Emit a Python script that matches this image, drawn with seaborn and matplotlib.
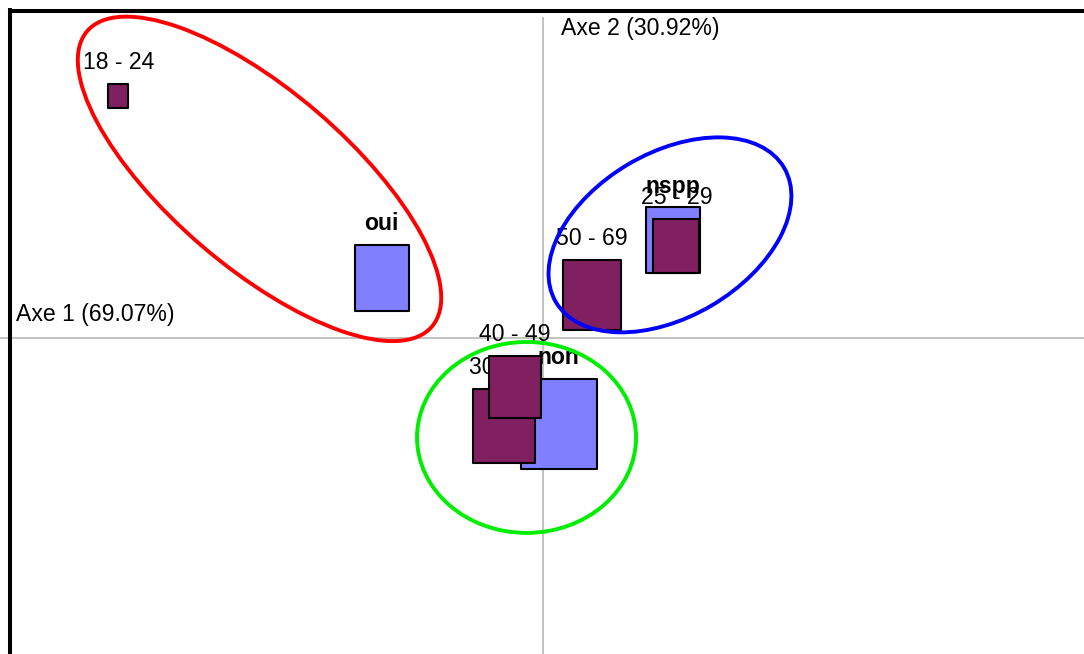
import numpy as np
import pandas as pd
import matplotlib
matplotlib.use("Agg")
import matplotlib.pyplot as plt
from matplotlib.path import Path
from matplotlib.patches import Ellipse
import seaborn as sns

# Modalités de l'AFC (opinion puis tranches d'âge), dans l'ordre de tracé
modalites = ["nspp", "non", "oui", "18 - 24", "25 - 29", "30 - 39", "40 - 49", "50 - 69"]
groupes = ["opinion", "opinion", "opinion", "age", "age", "age", "age", "age"]
axe1 = [0.325, 0.040, -0.403, -1.061, 0.334, -0.096, -0.070, 0.123]
axe2 = [0.245, -0.215, 0.151, 0.606, 0.232, -0.220, -0.121, 0.109]
masses = [25.2, 47.9, 25.1, 3.3, 17.3, 32.1, 22.3, 28.2]  # poids (%)

inertie = [69.07, 30.92]  # % d'inertie des axes

# Regroupements entourés : centre (axe1, axe2), largeur, hauteur, angle
ell_couleurs = ["#ff0000", "#0000ff", "#00ee00"]
ell_centres = [(-0.708, 0.399), (0.318, 0.259), (-0.0405, -0.2475)]
ell_largeurs = [1.135, 0.662, 0.5475]
ell_hauteurs = [0.442, 0.41, 0.4775]
ell_angles = [-40.6, 30.5, 0.0]

df = pd.DataFrame({"modalite": modalites, "groupe": groupes,
                   "axe1": axe1, "axe2": axe2, "masse": masses})

sns.set_theme(style="white")
plt.rcParams["font.family"] = ["Liberation Sans", "DejaVu Sans"]

couleurs = {"opinion": "#8080ff", "age": "#802060"}
aire_par_pct = 88.4  # points^2 de marqueur par % de masse
taille_police = 16.6

# Marqueur rectangulaire (un peu plus haut que large)
rw = 0.835 / 2
rect = Path([(-rw, -0.5), (rw, -0.5), (rw, 0.5), (-rw, 0.5), (-rw, -0.5)],
            [Path.MOVETO, Path.LINETO, Path.LINETO, Path.LINETO, Path.CLOSEPOLY])

fig = plt.figure(figsize=(10.84, 6.54), dpi=100)
ax = fig.add_axes([10.3 / 1084, 1 - 670 / 654, (1100 - 10.3) / 1084, (670 - 10.5) / 654])
ax.set_xlim(-1.331, 1.393)
ax.set_ylim(-0.829, 0.820)

# Axes factoriels
ax.axhline(0, xmin=-0.02, xmax=1, color="#b8b8b8", lw=1.2, zorder=1, clip_on=False)
ax.vlines(0, -0.829, 0.804, color="#b8b8b8", lw=1.2, zorder=1)

for i, row in df.iterrows():
    s = aire_par_pct * row["masse"]
    sns.scatterplot(x=[row["axe1"]], y=[row["axe2"]], ax=ax, marker=rect, s=s,
                    color=couleurs[row["groupe"]], edgecolor="black", linewidth=1.5,
                    zorder=3 + 2 * i, legend=False)
    ax.annotate(row["modalite"], xy=(row["axe1"], row["axe2"]),
                xytext=(0, np.sqrt(s) / 2 + 10.8), textcoords="offset points",
                ha="center", va="baseline", fontsize=taille_police, color="black",
                fontweight="bold" if row["groupe"] == "opinion" else "normal",
                zorder=4 + 2 * i)

for c, xy, w, h, a in zip(ell_couleurs, ell_centres, ell_largeurs, ell_hauteurs, ell_angles):
    ax.add_patch(Ellipse(xy, w, h, angle=a, fill=False, edgecolor=c, lw=2.8, zorder=50))

ax.annotate(f"Axe 1 ({inertie[0]:.2f}%)", xy=(0, 0), xycoords=("axes fraction", "data"),
            xytext=(4.3, 12.6), textcoords="offset points", ha="left", va="baseline",
            fontsize=taille_police, color="black")
ax.annotate(f"Axe 2 ({inertie[1]:.2f}%)", xy=(0, 1), xycoords=("data", "axes fraction"),
            xytext=(13, -17.6), textcoords="offset points", ha="left", va="baseline",
            fontsize=taille_police, color="black")

ax.set_xticks([])
ax.set_yticks([])
ax.set_xlabel("")
ax.set_ylabel("")
for side in ("right", "bottom"):
    ax.spines[side].set_visible(False)
for side in ("left", "top"):
    ax.spines[side].set_visible(True)
    ax.spines[side].set_color("black")
    ax.spines[side].set_linewidth(2.9)

fig.savefig("out.png", dpi=100)
